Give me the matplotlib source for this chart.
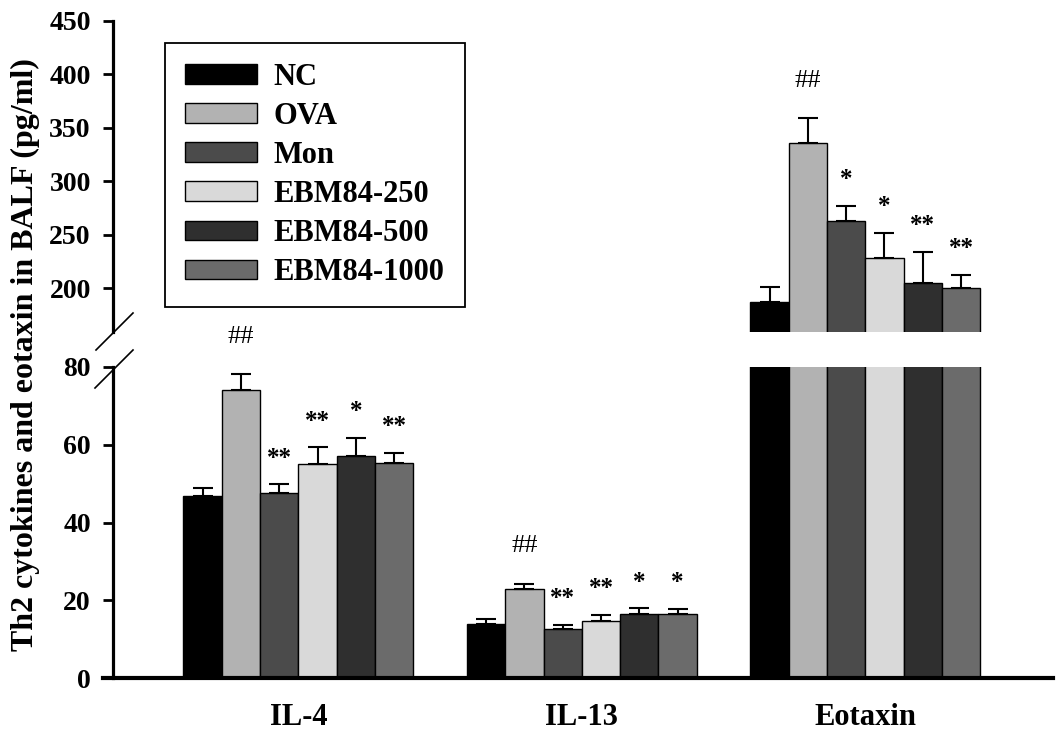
import numpy as np
import matplotlib.pyplot as plt
from matplotlib.lines import Line2D
from matplotlib.patches import Patch

plt.rcParams['font.family'] = ['Liberation Serif', 'DejaVu Serif']
plt.rcParams['font.weight'] = 'bold'

## data
groups = ["IL-4", "IL-13", "Eotaxin"]
treatments = ["NC", "OVA", "Mon", "EBM84-250", "EBM84-500", "EBM84-1000"]
colors = ["#000000", "#b2b2b2", "#4b4b4b", "#d9d9d9", "#2f2f2f", "#6b6b6b"]

il4 = [46.8, 74.1, 47.6, 55.1, 57.1, 55.4]
il4_err = [2.0, 4.0, 2.2, 4.2, 4.7, 2.5]
il13 = [14.0, 22.8, 12.5, 14.7, 16.5, 16.5]
il13_err = [1.1, 1.5, 1.2, 1.5, 1.4, 1.2]
eotaxin = [187, 336, 263, 228, 205, 200]
eotaxin_err = [14, 23, 14, 24, 29, 12]

il4_sig = ["", "##", "**", "**", "*", "**"]
il13_sig = ["", "##", "**", "**", "*", "*"]
eotaxin_sig = ["", "##", "*", "*", "**", "**"]

values = [il4, il13, eotaxin]
errors = [il4_err, il13_err, eotaxin_err]
sigs = [il4_sig, il13_sig, eotaxin_sig]

lower_ticks = [0, 20, 40, 60, 80]
upper_ticks = [200, 250, 300, 350, 400, 450]

## layout (pixels of a 1058x733 figure)
W, H = 1058, 733
group_gap = 7.4
xlim = (-5.1, 19.7)

fig = plt.figure(figsize=(W / 100, H / 100), dpi=100)
ax_lo = fig.add_axes([103 / W, 1 - 678 / H, 950 / W, 311 / H])
ax_hi = fig.add_axes([103 / W, 1 - 332 / H, 950 / W, 311 / H])

centers = np.arange(len(groups)) * group_gap
offsets = np.arange(len(treatments)) - (len(treatments) - 1) / 2

for ax in (ax_lo, ax_hi):
    for g in range(len(groups)):
        x = centers[g] + offsets
        ax.bar(x, values[g], width=1.0, color=colors, edgecolor="black", linewidth=1.0, zorder=2)
        ax.errorbar(x, values[g], yerr=[np.zeros(len(x)), errors[g]], fmt="none",
                    ecolor="black", elinewidth=1.5, capsize=7, capthick=1.5, zorder=3)
    ax.set_xlim(*xlim)
    ax.spines["top"].set_visible(False)
    ax.spines["right"].set_visible(False)
    ax.spines["left"].set_position(("axes", 10 / 950))
    ax.spines["left"].set_linewidth(2.3)
    ax.tick_params(axis="y", direction="out", length=7, width=2.0, labelsize=20, pad=9)

# significance marks
for g in range(len(groups)):
    ax = ax_hi if groups[g] == "Eotaxin" else ax_lo
    x = centers[g] + offsets
    for i in range(len(treatments)):
        s = sigs[g][i]
        if not s:
            continue
        top = values[g][i] + errors[g][i]
        if s == "##":
            ax.annotate(s, (x[i], top), xytext=(0, 27), textcoords="offset points",
                        ha="center", va="center", fontsize=19, fontweight="normal")
        else:
            ax.annotate(s, (x[i], top), xytext=(0, 19), textcoords="offset points",
                        ha="center", va="center", fontsize=18, fontweight="bold")

ax_lo.set_ylim(0, 80)
ax_lo.set_yticks(lower_ticks)
ax_lo.spines["bottom"].set_linewidth(3.0)
ax_lo.set_xticks(centers)
ax_lo.set_xticklabels(groups, fontsize=22)
ax_lo.tick_params(axis="x", length=0, pad=18)

ax_hi.set_ylim(159, 450)
ax_hi.set_yticks(upper_ticks)
ax_hi.spines["bottom"].set_visible(False)
ax_hi.set_xticks([])
ax_hi.patch.set_alpha(0)

# axis break slashes
for (x0, y0, x1, y1) in [(96, 350, 133, 313), (95, 388, 133, 350)]:
    fig.add_artist(Line2D([x0 / W, x1 / W], [1 - y0 / H, 1 - y1 / H], color="black", lw=1.2))

fig.text(25 / W, 1 - 355 / H, "Th2 cytokines and eotaxin in BALF (pg/ml)",
         rotation=90, ha="center", va="center", fontsize=23, fontweight="bold")

handles = [Patch(facecolor=c, edgecolor="black", linewidth=1.0) for c in colors]
leg = ax_hi.legend(handles, treatments, loc="upper left", bbox_to_anchor=(165 / W, 1 - 43 / H),
                   bbox_transform=fig.transFigure, borderaxespad=0, fontsize=22,
                   handlelength=2.36, handleheight=0.62, labelspacing=0.33,
                   borderpad=0.65, handletextpad=0.55, fancybox=False, framealpha=1)
leg.get_frame().set_edgecolor("black")
leg.get_frame().set_linewidth(1.3)

fig.savefig("out.png", dpi=100)
